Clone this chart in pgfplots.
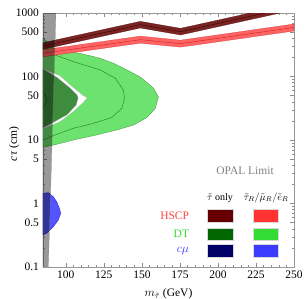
\documentclass[border=0pt]{standalone}
\usepackage{pgfplots}
\pgfplotsset{compat=1.18}
\usepackage{fontspec}
\setmainfont{Liberation Serif}
\definecolor{lgreen}{RGB}{110,226,110}
\definecolor{lgreenline}{RGB}{40,120,40}
\definecolor{dgreen}{RGB}{62,140,62}
\definecolor{lred}{RGB}{255,100,100}
\definecolor{lredline}{RGB}{210,30,30}
\definecolor{dred}{RGB}{122,36,36}
\definecolor{dredline}{RGB}{60,0,0}
\definecolor{lblue}{RGB}{85,85,255}
\definecolor{sw1}{RGB}{102,0,0}
\definecolor{sw2}{RGB}{255,51,51}
\definecolor{sw3}{RGB}{0,102,0}
\definecolor{sw4}{RGB}{51,221,51}
\definecolor{sw5}{RGB}{0,0,102}
\definecolor{sw6}{RGB}{60,60,255}
\definecolor{txred}{RGB}{255,70,70}
\definecolor{txgreen}{RGB}{51,221,51}
\definecolor{txblue}{RGB}{51,51,255}
\begin{document}
\fontsize{11.5}{13}\selectfont
\begin{tikzpicture}
\begin{axis}[
  at={(0,0)}, anchor=south west,
  scale only axis, width=251pt, height=254pt,
  xmin=85, xmax=250, ymin=0.1, ymax=1000, ymode=log,
  xtick={100,125,...,250}, minor x tick num=4,
  ytick={0.1,0.5,1,5,10,50,100,500,1000},
  yticklabels={0.1,0.5,1,5,10,50,100,500,1000},
  minor ytick={0.2,0.3,0.4,0.6,0.7,0.8,0.9,2,3,4,6,7,8,9,20,30,40,60,70,80,90,200,300,400,600,700,800,900},
  /pgf/number format/assume math mode=true,
  /pgf/number format/1000 sep={},
  axis line style={black!40},
  every tick/.style={black!45},
  major tick length=4pt, minor tick length=2pt,
  xlabel={$m_{\tilde\tau}$ (GeV)},
  ylabel={\textit{cτ} (cm)},
  every axis x label/.style={at={(axis description cs:0.5,0)}, anchor=center, yshift=-27pt},
  every axis y label/.style={at={(axis description cs:0,0.5)}, xshift=-29pt, yshift=-4pt, rotate=90, anchor=center},
]
% light green (DT, stau_R/mu_R/e_R)
\addplot[fill=lgreen, draw=lgreenline, very thin] coordinates {
(85,404) (89,330) (92.9,261) (109.4,232) (122.6,194) (131.4,161) (138,135) (149,98) (157.6,66) (160.9,47.6)
(158.9,31.6) (153.4,22.7) (144.6,17.2) (133.6,14.4) (120.4,12) (105,10) (91.8,8.3) (85,7.7)} -- cycle;
% inner contour
\addplot[draw=lgreenline, thin] coordinates {
(85,255) (92.9,218) (105,171) (122.6,127) (132.5,94) (137.9,61) (138.6,45) (136.8,31.6) (130.3,22.7)
(118.2,18.3) (105,15.3) (92.9,12) (85,10)};
% hole
\addplot[fill=white, draw=black!30, very thin] coordinates {
(85,133) (96.2,102) (104.8,67) (111.4,50) (114,46) (111.4,39) (104.8,28) (96.2,19.5) (85,15)} -- cycle;
% dark green (DT, stau only)
\addplot[fill=dgreen, draw=white!70!black, very thin] coordinates {
(85,131) (94.2,97) (102.8,66) (107.4,51) (108.1,46) (106.8,35.5) (100.8,25) (91.6,18.8) (85,15.5)} -- cycle;
\addplot[draw=black!60!green, thin] coordinates {(85,57.6) (87,48) (87.4,42.5) (86.3,35.5) (85,31.6)};
% blue (c mu)
\addplot[fill=lblue, draw=blue!70!black, very thin] coordinates {
(85,1.45) (88.5,1.48) (91.8,1.28) (94,1.07) (95.8,0.84) (96.7,0.70) (95.1,0.55) (91.8,0.43) (87.4,0.34) (85,0.32)} -- cycle;
% light red band (HSCP, stau_R/mu_R/e_R)
\addplot[fill=lred, draw=lredline, very thin] coordinates {
(85,263) (149,432) (175.4,373) (250,671) (250,521) (175.4,290) (149,335) (85,204)} -- cycle;
\addplot[draw=lredline, thin] coordinates {(85,232) (149,380) (175.4,329) (250,592)};
% dark red band (HSCP, stau only)
\addplot[fill=dred, draw=dredline, very thin] coordinates {
(85,340) (149,738) (175.4,573) (250,1419) (250,1117) (175.4,451) (149,581) (85,268)} -- cycle;
\addplot[draw=dredline, thin] coordinates {(85,302) (149,655) (175.4,508) (250,1259)};
% OPAL limit
\addplot[fill=black, fill opacity=0.4, draw=black!50, very thin] coordinates {
(85,0.1) (88.5,0.1) (93.5,1000) (85,1000)} -- cycle;
% legend
\node[text=black!50] at (rel axis cs:0.805,0.378) {OPAL Limit};
\node[inner sep=0pt, font=\fontsize{10}{12}\selectfont] at (rel axis cs:0.705,0.272) {$\tilde\tau$ only};
\node[inner sep=0pt, font=\fontsize{10}{12}\selectfont] at (rel axis cs:0.889,0.272) {$\tilde\tau_R/\tilde\mu_R/\tilde e_R$};
\node[anchor=east, text=txred] at (rel axis cs:0.598,0.201) {HSCP};
\node[anchor=east, text=txgreen] at (rel axis cs:0.598,0.130) {DT};
\node[anchor=east, text=txblue] at (rel axis cs:0.598,0.063) {$c\mu$};
\fill[sw1, draw=black!15] (rel axis cs:0.653,0.177) rectangle (rel axis cs:0.757,0.228);
\fill[sw2, draw=black!15] (rel axis cs:0.837,0.177) rectangle (rel axis cs:0.936,0.228);
\fill[sw3, draw=black!15] (rel axis cs:0.653,0.106) rectangle (rel axis cs:0.757,0.154);
\fill[sw4, draw=black!15] (rel axis cs:0.837,0.106) rectangle (rel axis cs:0.936,0.154);
\fill[sw5, draw=black!15] (rel axis cs:0.653,0.039) rectangle (rel axis cs:0.757,0.091);
\fill[sw6, draw=black!15] (rel axis cs:0.837,0.039) rectangle (rel axis cs:0.936,0.091);
\end{axis}
\pgfresetboundingbox
\useasboundingbox (-43pt,-32pt) rectangle (262pt,267pt);
\end{tikzpicture}
\end{document}
